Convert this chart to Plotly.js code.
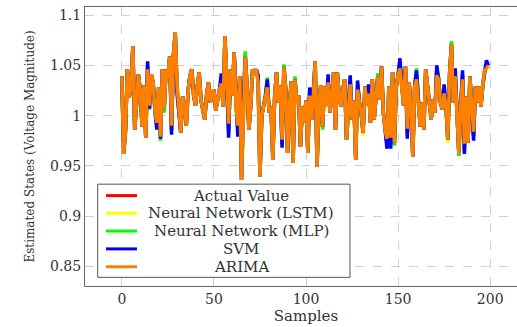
<!DOCTYPE html>
<html>
<head>
<meta charset="utf-8">
<script src="https://cdn.plot.ly/plotly-3.0.1.min.js"></script>
<style>
html, body { margin: 0; padding: 0; overflow: hidden; background: #fff; width: 517px; height: 327px; }
#chart { width: 527px; height: 327px; }
</style>
</head>
<body>
<div id="chart"></div>
<script>
const seriesNames = ["Actual Value", "Neural Network (LSTM)", "Neural Network (MLP)", "SVM", "ARIMA"];
const seriesColors = ["#ff0000", "#ffff00", "#00ff00", "#0000ff", "#ff8000"];

const arima = [1.039,0.962,0.985,1.046,1.018,1.030,1.069,0.986,1.012,1.041,1.025,0.989,1.030,0.978,1.046,1.010,1.041,1.033,1.005,0.993,
1.028,0.979,1.046,1.007,1.046,1.038,1.059,0.990,1.060,1.083,1.030,1.000,0.983,1.019,1.010,0.990,1.025,1.040,1.046,1.020,
1.010,1.030,1.043,1.015,1.003,0.996,1.020,1.033,1.013,1.020,1.026,1.005,1.016,1.025,1.032,1.009,1.079,1.030,0.992,1.046,
1.020,1.063,1.010,0.990,1.039,0.936,1.015,1.059,1.029,0.986,1.010,1.046,1.040,1.046,1.032,0.939,1.000,1.009,1.020,1.028,
1.003,1.009,0.956,1.020,1.043,1.013,1.030,0.976,1.048,1.026,0.963,1.010,1.034,0.953,1.036,1.013,1.020,0.969,1.009,0.993,
1.015,0.963,1.020,0.996,1.020,1.054,0.949,1.013,1.030,0.989,1.029,1.010,1.033,1.003,1.020,1.043,0.986,1.043,1.020,1.009,
1.026,1.036,0.976,1.003,1.031,0.996,1.015,0.956,1.026,1.013,1.003,0.983,1.029,1.010,1.022,0.993,1.036,0.996,1.020,1.039,
1.016,1.049,1.003,0.985,0.977,1.029,0.978,1.043,0.973,1.029,1.040,1.047,1.029,1.010,1.049,0.987,1.033,1.010,0.959,1.029,
1.036,1.016,0.989,1.013,0.986,1.046,1.029,1.010,0.996,1.016,1.003,1.040,1.036,1.013,1.006,1.022,1.010,0.976,1.043,1.071,
1.013,1.039,1.003,0.963,1.009,1.036,0.972,1.019,0.973,1.039,1.009,0.984,1.029,1.013,1.029,1.009,1.030,1.045,1.047,1.050];

const svm = [1.039,0.962,0.985,1.046,1.018,1.030,1.069,0.986,1.012,1.041,1.025,0.989,1.030,0.978,1.054,1.007,1.041,1.033,1.005,0.986,
1.028,0.977,1.046,1.007,1.046,1.038,1.059,0.981,1.060,1.083,1.022,1.000,0.983,1.019,1.010,0.990,1.025,1.040,1.046,1.020,
1.010,1.030,1.043,1.015,1.003,0.996,1.020,1.033,1.013,1.020,1.026,1.005,1.016,1.025,1.042,1.009,1.079,1.030,0.978,1.046,
1.020,1.063,1.010,0.979,1.039,0.936,1.015,1.059,1.029,0.986,1.010,1.046,1.040,1.046,1.040,0.939,1.000,1.009,1.020,1.036,
1.003,1.009,0.956,1.020,1.043,1.013,1.030,0.968,1.048,1.026,0.963,1.010,1.034,0.953,1.036,1.013,1.020,0.969,1.009,0.993,
1.015,0.963,1.028,0.996,1.020,1.054,0.949,1.013,1.030,0.989,1.029,1.010,1.041,1.003,1.020,1.043,0.986,1.043,1.020,1.009,
1.026,1.036,0.976,1.003,1.040,0.996,1.015,0.956,1.035,1.013,1.003,0.983,1.029,1.010,1.031,0.993,1.036,0.996,1.020,1.039,
1.016,1.049,1.003,0.985,0.967,1.029,0.967,1.043,0.973,1.029,1.040,1.057,1.029,1.010,1.049,0.977,1.033,1.010,0.959,1.029,
1.045,1.016,0.989,1.013,0.986,1.046,1.029,1.010,0.996,1.016,1.003,1.050,1.036,1.013,1.006,1.031,1.010,0.976,1.043,1.071,
1.013,1.047,1.003,0.963,1.009,1.045,0.962,1.019,0.973,1.039,1.009,0.975,1.029,1.013,1.029,1.009,1.030,1.045,1.055,1.050];

const mlp = [1.039,0.962,0.985,1.046,1.018,1.030,1.069,0.986,1.012,1.041,1.025,0.989,1.030,0.978,1.048,1.006,1.041,1.033,1.005,0.990,
1.028,0.975,1.046,1.003,1.046,1.038,1.059,0.986,1.060,1.083,1.026,1.000,0.983,1.019,1.010,0.990,1.025,1.040,1.046,1.020,
1.010,1.030,1.043,1.015,1.003,0.996,1.020,1.033,1.013,1.020,1.026,1.005,1.016,1.025,1.036,1.009,1.079,1.030,0.984,1.046,
1.020,1.063,1.010,0.984,1.039,0.936,1.015,1.064,1.029,0.986,1.010,1.046,1.040,1.046,1.036,0.939,1.000,1.009,1.020,1.038,
1.003,1.009,0.956,1.020,1.043,1.013,1.030,0.972,1.051,1.026,0.963,1.010,1.034,0.953,1.039,1.013,1.020,0.969,1.009,0.993,
1.015,0.963,1.024,0.996,1.020,1.054,0.949,1.013,1.030,0.986,1.029,1.010,1.037,1.003,1.020,1.043,0.986,1.043,1.020,1.009,
1.026,1.036,0.976,1.000,1.036,0.996,1.015,0.956,1.031,1.013,1.003,0.983,1.029,1.010,1.026,0.993,1.036,0.996,1.020,1.042,
1.016,1.049,1.003,0.985,0.972,1.029,0.972,1.043,0.970,1.029,1.040,1.052,1.029,1.010,1.049,0.982,1.033,1.010,0.959,1.029,
1.047,1.016,0.989,1.013,0.986,1.046,1.029,1.010,0.996,1.016,1.003,1.045,1.039,1.013,1.006,1.026,1.010,0.976,1.043,1.074,
1.013,1.043,1.003,0.960,1.009,1.040,0.966,1.019,0.973,1.039,1.009,0.980,1.029,1.013,1.029,1.009,1.030,1.045,1.051,1.050];

const lstm = [1.039,0.962,0.985,1.046,1.018,1.030,1.069,0.986,1.012,1.041,1.025,0.989,1.030,0.978,1.048,1.009,1.041,1.033,1.005,0.991,
1.028,0.978,1.046,1.006,1.046,1.038,1.059,0.987,1.060,1.083,1.028,1.000,0.983,1.019,1.010,0.990,1.025,1.040,1.046,1.020,
1.010,1.030,1.043,1.015,1.003,0.996,1.020,1.033,1.013,1.020,1.026,1.005,1.016,1.025,1.034,1.009,1.079,1.030,0.986,1.046,
1.020,1.063,1.010,0.986,1.039,0.936,1.015,1.061,1.029,0.986,1.010,1.046,1.040,1.046,1.034,0.939,1.000,1.009,1.020,1.031,
1.003,1.009,0.956,1.020,1.043,1.013,1.030,0.973,1.049,1.026,0.963,1.010,1.034,0.953,1.037,1.013,1.020,0.969,1.009,0.993,
1.015,0.963,1.022,0.996,1.020,1.054,0.949,1.013,1.030,0.988,1.029,1.010,1.035,1.003,1.020,1.043,0.986,1.043,1.020,1.009,
1.026,1.036,0.976,1.002,1.034,0.996,1.015,0.956,1.029,1.013,1.003,0.980,1.029,1.010,1.024,0.993,1.036,0.996,1.020,1.040,
1.016,1.049,1.003,0.985,0.974,1.029,0.975,1.043,0.972,1.029,1.040,1.050,1.029,1.010,1.049,0.984,1.033,1.010,0.959,1.029,
1.040,1.016,0.989,1.013,0.986,1.046,1.029,1.010,0.996,1.016,1.003,1.043,1.037,1.013,1.006,1.024,1.010,0.973,1.043,1.072,
1.013,1.041,1.003,0.962,1.009,1.038,0.968,1.019,0.973,1.039,1.009,0.982,1.029,1.013,1.029,1.009,1.030,1.045,1.049,1.050];

const actual = [1.039,0.962,0.985,1.046,1.018,1.030,1.069,0.986,1.012,1.041,1.025,0.989,1.030,0.978,1.049,1.009,1.041,1.033,1.005,0.990,
1.028,0.978,1.046,1.006,1.046,1.038,1.059,0.986,1.060,1.080,1.027,1.000,0.983,1.019,1.010,0.990,1.025,1.040,1.046,1.020,
1.010,1.030,1.043,1.015,1.003,0.996,1.020,1.033,1.013,1.020,1.026,1.005,1.016,1.025,1.036,1.009,1.077,1.030,0.985,1.046,
1.020,1.063,1.010,0.985,1.039,0.942,1.015,1.061,1.029,0.986,1.010,1.046,1.040,1.046,1.035,0.944,1.000,1.009,1.020,1.032,
1.003,1.009,0.958,1.020,1.043,1.013,1.030,0.972,1.050,1.026,0.963,1.010,1.034,0.955,1.037,1.013,1.020,0.969,1.009,0.993,
1.015,0.964,1.024,0.996,1.020,1.053,0.951,1.013,1.030,0.988,1.029,1.010,1.036,1.003,1.020,1.043,0.986,1.043,1.020,1.009,
1.026,1.036,0.976,1.002,1.035,0.996,1.015,0.958,1.030,1.013,1.003,0.982,1.029,1.010,1.026,0.993,1.036,0.996,1.020,1.040,
1.016,1.049,1.003,0.985,0.972,1.029,0.972,1.043,0.972,1.029,1.040,1.052,1.029,1.010,1.049,0.982,1.033,1.010,0.960,1.029,
1.041,1.016,0.989,1.013,0.986,1.046,1.029,1.010,0.996,1.016,1.003,1.045,1.037,1.013,1.006,1.026,1.010,0.975,1.043,1.070,
1.013,1.043,1.003,0.961,1.009,1.040,0.965,1.019,0.973,1.039,1.009,0.980,1.029,1.013,1.029,1.009,1.030,1.045,1.051,1.050];

const samples = actual.map((_, i) => i);
const xTicks = [0, 50, 100, 150, 200];
const yTicks = [0.85, 0.9, 0.95, 1, 1.05, 1.1];
const yTickText = ["0.85", "0.9", "0.95", "1", "1.05", "1.1"];

const allSeries = [actual, lstm, mlp, svm, arima];
const FONT = "DejaVu Serif, serif";
const TXT = "#333";

const traces = allSeries.map((ys, k) => ({
  x: samples, y: ys, type: "scatter", mode: "lines", name: seriesNames[k],
  line: { color: seriesColors[k], width: 3.5 }, showlegend: false, hoverinfo: "skip"
}));

// manual legend (centered text like the original)
const lx0 = 0.0287, lx1 = 0.5995, ly0 = 0.031, ly1 = 0.365;
const rowY = [0.324, 0.261, 0.197, 0.133, 0.069];
const shapes = [{
  type: "rect", xref: "paper", yref: "paper", x0: lx0, x1: lx1, y0: ly0, y1: ly1,
  line: { color: "#555", width: 1 }, fillcolor: "#fff", layer: "above"
}];
const annotations = [];
seriesNames.forEach((nm, k) => {
  shapes.push({ type: "line", xref: "paper", yref: "paper", x0: 0.0475, x1: 0.1176, y0: rowY[k], y1: rowY[k],
    line: { color: seriesColors[k], width: 3 }, layer: "above" });
  annotations.push({ xref: "paper", yref: "paper", x: 0.354, y: rowY[k], xanchor: "center", yanchor: "middle",
    text: nm, showarrow: false, font: { family: FONT, size: 15, color: TXT } });
});

const layout = {
  width: 527, height: 327,
  margin: { l: 85, r: 0, t: 7, b: 41 },
  paper_bgcolor: "#fff", plot_bgcolor: "#fff",
  font: { family: FONT, size: 14, color: TXT },
  xaxis: {
    range: [-20, 220], tickvals: xTicks, ticks: "", showline: true, mirror: true,
    linecolor: "#666", linewidth: 1, showgrid: true, gridcolor: "#d0d0d0", griddash: "dash", zeroline: false,
    tickfont: { family: FONT, size: 14, color: TXT },
    title: { text: "Samples", font: { family: FONT, size: 15, color: TXT }, standoff: 4 }
  },
  yaxis: {
    range: [0.8306, 1.108], tickvals: yTicks, ticktext: yTickText, ticks: "", showline: true, mirror: true,
    linecolor: "#666", linewidth: 1, showgrid: true, gridcolor: "#d0d0d0", griddash: "dash", zeroline: false,
    tickfont: { family: FONT, size: 14, color: TXT },
    title: { text: "Estimated States (Voltage Magnitude)", font: { family: FONT, size: 12, color: TXT }, standoff: 12 }
  },
  shapes: shapes,
  annotations: annotations
};

Plotly.newPlot("chart", traces, layout, { staticPlot: true, displayModeBar: false });
</script>
</body>
</html>
